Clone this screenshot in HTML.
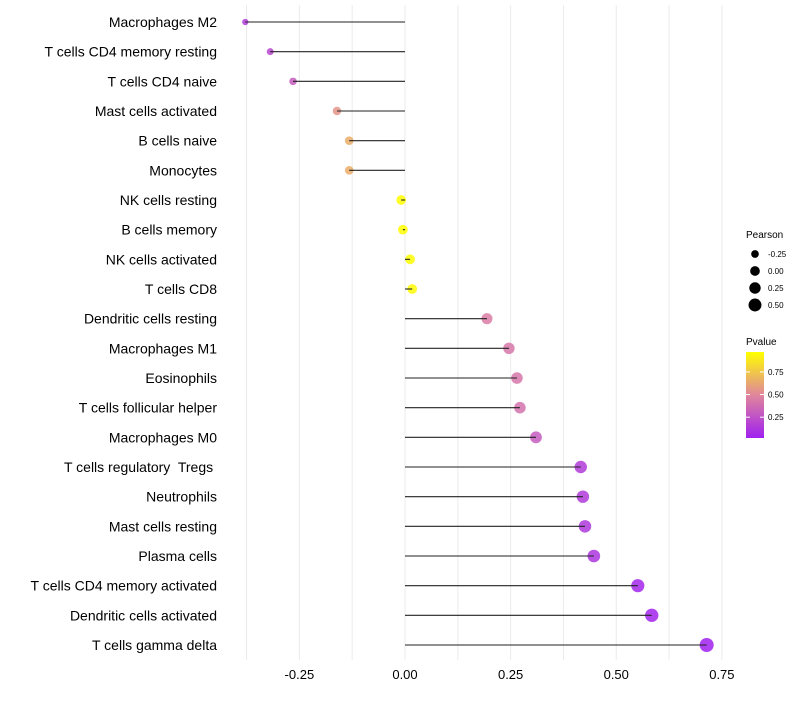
<!DOCTYPE html>
<html><head><meta charset="utf-8"><style>
body{margin:0;background:#fff;font-family:"Liberation Sans",sans-serif;}
svg text{font-family:"Liberation Sans",sans-serif;white-space:pre;}
</style></head><body>
<svg id="chart" width="800" height="700">
<defs><linearGradient id="pg" x1="0" y1="1" x2="0" y2="0">
<stop offset="0" stop-color="#A020F0"/><stop offset="0.5" stop-color="#E0869C"/><stop offset="1" stop-color="#FFFF00"/>
</linearGradient></defs>
<g id="grid"></g><g id="marks"></g><g id="stems"></g><g id="labels"></g>
<g>
<text x="746" y="238" font-size="10" fill="#000">Pearson</text>
<g id="sizeleg"></g>
</g>
<g>
<text x="746" y="345" font-size="10" fill="#000">Pvalue</text>
<rect x="746" y="352" width="18" height="86" fill="url(#pg)"/>
<g id="pleg"></g>
</g>
</svg>
<script>
const categories=["Macrophages M2","T cells CD4 memory resting","T cells CD4 naive","Mast cells activated","B cells naive","Monocytes","NK cells resting","B cells memory","NK cells activated","T cells CD8","Dendritic cells resting","Macrophages M1","Eosinophils","T cells follicular helper","Macrophages M0","T cells regulatory  Tregs ","Neutrophils","Mast cells resting","Plasma cells","T cells CD4 memory activated","Dendritic cells activated","T cells gamma delta"];
const pearson=[-0.378,-0.319,-0.265,-0.161,-0.132,-0.132,-0.009,-0.005,0.012,0.017,0.194,0.246,0.265,0.272,0.31,0.416,0.421,0.426,0.447,0.551,0.584,0.714];
const pvalue=[0.15,0.2,0.3,0.55,0.65,0.65,0.97,0.98,0.96,0.95,0.45,0.42,0.42,0.4,0.3,0.15,0.14,0.13,0.12,0.05,0.04,0.01];
const xTicks=[-0.25,0,0.25,0.5,0.75];
const xTickLabels=["-0.25","0.00","0.25","0.50","0.75"];
const sizeLegend=[-0.25,0,0.25,0.5];
const pTicks=[0.25,0.5,0.75];

const NS="http://www.w3.org/2000/svg";
const x=v=>405+v*422.5;
const y=i=>22+i*(645-22)/(categories.length-1);
const r=v=>Math.sqrt(Math.max(0.3,10+ (v+0.378)*36));
const py=p=>438-(p-0.02)/(0.97-0.02)*86;
function col(p){const t=Math.max(0,Math.min(1,(p-0.02)/0.95));
 const a=[160,32,240],m=[224,134,156],b=[255,255,0];let c;
 if(t<0.5){const u=t/0.5;c=a.map((v,k)=>v+(m[k]-v)*u);}else{const u=(t-0.5)/0.5;c=m.map((v,k)=>v+(b[k]-v)*u);}
 return `rgb(${c.map(Math.round).join(",")})`;}
function mk(tag,attrs,parent){const e=document.createElementNS(NS,tag);for(const k in attrs)e.setAttribute(k,attrs[k]);parent.appendChild(e);return e;}
const grid=document.getElementById('grid'),marks=document.getElementById('marks'),stems=document.getElementById('stems'),labels=document.getElementById('labels');
for(let v=-0.375;v<=0.76;v+=0.125){const g=mk('line',{x1:x(v),x2:x(v),y1:5,y2:660,stroke:'#ebebeb','stroke-width':1},grid);

}
xTicks.forEach((v,i)=>{const t=mk('text',{x:x(v),y:679,'font-size':13,'text-anchor':'middle',fill:'#000'},labels);t.textContent=xTickLabels[i];

});
categories.forEach((c,i)=>{
 const t=mk('text',{x:217,y:y(i)+5,'font-size':14,'text-anchor':'end',fill:'#000','xml:space':'preserve'},labels);t.textContent=c;
 
 
 const d=mk('circle',{cx:x(pearson[i]),cy:y(i),r:r(pearson[i]),fill:col(pvalue[i]),'fill-opacity':0.85},marks);
 
 
 const l=mk('line',{x1:x(0),x2:x(pearson[i]),y1:y(i),y2:y(i),stroke:'#222','stroke-width':1.1},stems);
 
 
});
const sl=document.getElementById('sizeleg');
sizeLegend.forEach((v,i)=>{const cy=254+i*17;
 const d=mk('circle',{cx:755,cy:cy,r:r(v),fill:'#000'},sl);
 
 
 const t=mk('text',{x:768,y:cy+3,'font-size':8,fill:'#000'},sl);t.textContent=v.toFixed(2);
 
 });
const pl=document.getElementById('pleg');
pTicks.forEach(p=>{const yy=py(p);
 mk('line',{x1:746,x2:750,y1:yy,y2:yy,stroke:'#fff'},pl);mk('line',{x1:760,x2:764,y1:yy,y2:yy,stroke:'#fff'},pl);
 const t=mk('text',{x:768,y:yy+3,'font-size':8,fill:'#000'},pl);t.textContent=p.toFixed(2);
 
 });
</script>
</body></html>
